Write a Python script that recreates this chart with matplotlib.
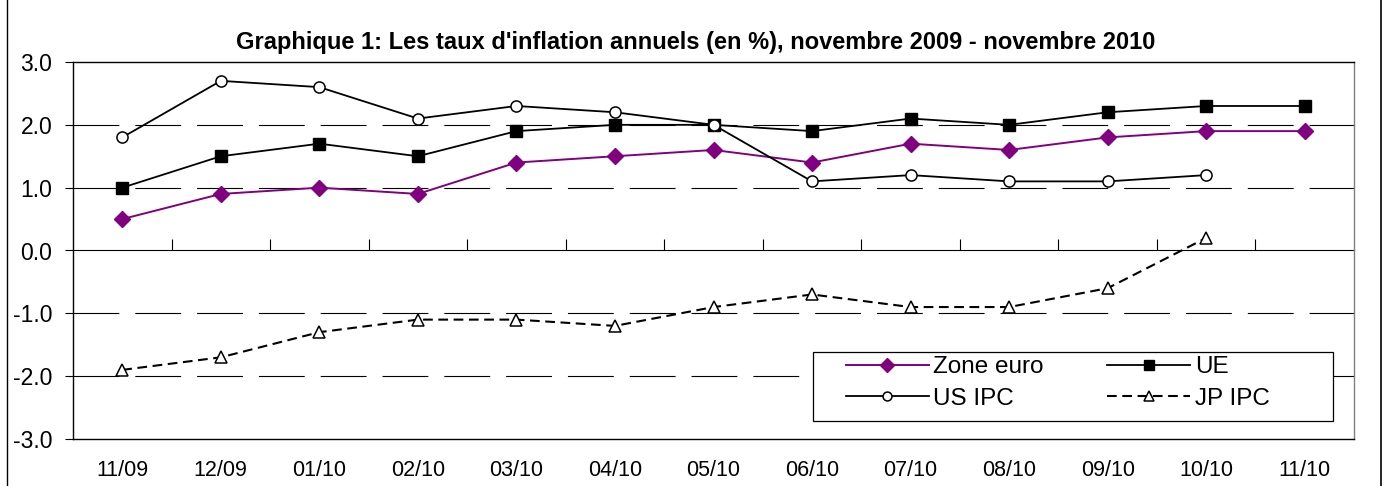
import numpy as np
import matplotlib
matplotlib.use("Agg")
import matplotlib.pyplot as plt
from matplotlib.lines import Line2D
from matplotlib.patches import Rectangle

plt.rcParams["font.family"] = ["Liberation Sans", "DejaVu Sans"]
plt.rcParams["lines.scale_dashes"] = False

# ---------- data ----------
months = ["11/09", "12/09", "01/10", "02/10", "03/10", "04/10", "05/10",
          "06/10", "07/10", "08/10", "09/10", "10/10", "11/10"]
zone_euro = [0.5, 0.9, 1.0, 0.9, 1.4, 1.5, 1.6, 1.4, 1.7, 1.6, 1.8, 1.9, 1.9]
ue = [1.0, 1.5, 1.7, 1.5, 1.9, 2.0, 2.0, 1.9, 2.1, 2.0, 2.2, 2.3, 2.3]
us_ipc = [1.8, 2.7, 2.6, 2.1, 2.3, 2.2, 2.0, 1.1, 1.2, 1.1, 1.1, 1.2, np.nan]
jp_ipc = [-1.9, -1.7, -1.3, -1.1, -1.1, -1.2, -0.9, -0.7, -0.9, -0.9, -0.6, 0.2, np.nan]
yticks = [-3.0, -2.0, -1.0, 0.0, 1.0, 2.0, 3.0]
grid_levels = [-2.0, -1.0, 1.0, 2.0]

title = "Graphique 1: Les taux d'inflation annuels (en %), novembre 2009 - novembre 2010"

W, H = 1384, 486
fig = plt.figure(figsize=(W / 100, H / 100), dpi=100)
ax = fig.add_axes([73 / W, 47 / H, 1281 / W, 377 / H])

x = np.arange(len(months))

# gridlines (long dashes)
for g in grid_levels:
    ax.axhline(g, color="black", lw=0.8, dashes=(33, 11.5), zorder=1)

# series
ax.plot(x, zone_euro, color="#800080", lw=1.4, marker="D", ms=8.5,
        mfc="#800080", mec="#800080", label="Zone euro", zorder=3)
ax.plot(x, ue, color="black", lw=1.3, marker="s", ms=8.5,
        mfc="black", mec="black", label="UE", zorder=3)
ax.plot(x, us_ipc, color="black", lw=1.3, marker="o", ms=8,
        mfc="white", mec="black", mew=1.1, label="US IPC", zorder=3)
ax.plot(x, jp_ipc, color="black", lw=1.5, dashes=(7, 4), marker="^", ms=9,
        mfc="white", mec="black", mew=1.1, label="JP IPC", zorder=3)

ax.set_xlim(-0.5, len(months) - 0.5)
ax.set_ylim(-3, 3)

# y axis
ax.set_yticks(yticks)
ax.set_yticklabels([f"{v:.1f}" for v in yticks], fontsize=16.5)
ax.tick_params(axis="y", direction="out", length=6, width=0.8, pad=9)

# x labels at bottom, no tick marks
ax.set_xticks(x)
ax.set_xticklabels(months, fontsize=15.5)
ax.tick_params(axis="x", length=0, pad=15)

# category axis crossing at zero with boundary ticks
sec = ax.secondary_xaxis(0.5)
sec.set_xticks(np.arange(0.5, len(months) - 1, 1.0))
sec.set_xticklabels([])
sec.tick_params(axis="x", direction="out", length=8, width=0.8)
sec.spines["bottom"].set_linewidth(1.0)

for side in ["left", "top", "bottom"]:
    ax.spines[side].set_color("black")
    ax.spines[side].set_linewidth(1.0)
ax.spines["right"].set_color("#808080")
ax.spines["right"].set_linewidth(1.0)

# legend box (Excel style, wide padding)
box = Rectangle((813 / W, 1 - 421 / H), 520 / W, 69 / H, transform=fig.transFigure,
                facecolor="white", edgecolor="black", lw=0.9, zorder=4)
fig.add_artist(box)

handles, labels = ax.get_legend_handles_labels()
order = [0, 2, 1, 3]
leg = fig.legend([handles[i] for i in order], [labels[i] for i in order],
                 ncol=2, loc="upper left", bbox_to_anchor=(846 / W, 1 - 356 / H),
                 borderaxespad=0, fontsize=17.5, frameon=False,
                 handlelength=3.4, handletextpad=0.2, columnspacing=2.6,
                 borderpad=0, labelspacing=0.4, markerscale=0.8)
leg.set_zorder(5)

fig.text(696 / W, 1 - 42 / H, title, ha="center", va="center",
         fontsize=17, fontweight="bold")

# outer chart frame
fig.add_artist(Line2D([7 / W, 7 / W], [0, 1], color="black", lw=1.0,
                      transform=fig.transFigure))
fig.add_artist(Line2D([1381 / W, 1381 / W], [0, 1], color="black", lw=1.2,
                      transform=fig.transFigure))

fig.savefig("out.png", dpi=100)
